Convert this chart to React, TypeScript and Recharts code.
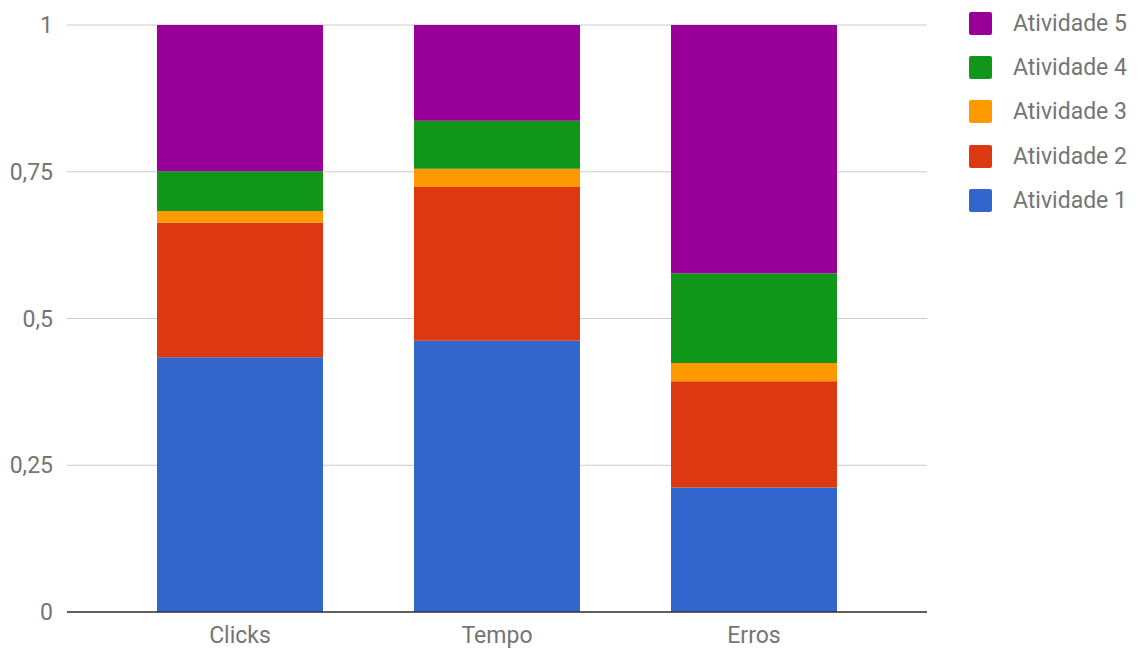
import React from "react";
import { BarChart, Bar, XAxis, YAxis, CartesianGrid } from "recharts";

const categories = ["Clicks", "Tempo", "Erros"];
const atividade1 = [0.434, 0.462, 0.212];
const atividade2 = [0.229, 0.262, 0.181];
const atividade3 = [0.02, 0.031, 0.031];
const atividade4 = [0.068, 0.082, 0.153];
const atividade5 = [0.249, 0.163, 0.423];
const yTicks = [0, 0.25, 0.5, 0.75, 1];

const series = [
  { key: "a1", name: "Atividade 1", color: "#3366cc", values: atividade1 },
  { key: "a2", name: "Atividade 2", color: "#dc3912", values: atividade2 },
  { key: "a3", name: "Atividade 3", color: "#ff9900", values: atividade3 },
  { key: "a4", name: "Atividade 4", color: "#109618", values: atividade4 },
  { key: "a5", name: "Atividade 5", color: "#990099", values: atividade5 },
];

const data = categories.map((name, i) => {
  const row: Record<string, string | number> = { name };
  series.forEach((s) => {
    row[s.key] = s.values[i];
  });
  return row;
});

const FONT = "Roboto, 'Noto Sans', sans-serif";
const TEXT = "#757575";

// legend on the right, last series on top
function LegendBox() {
  const items = [...series].reverse();
  return (
    <div
      style={{
        position: "absolute",
        left: 969,
        top: 1.5,
        fontFamily: FONT,
        fontSize: 23,
        color: TEXT,
      }}
    >
      {items.map((s) => (
        <div
          key={s.key}
          style={{ display: "flex", alignItems: "center", height: 44.2 }}
        >
          <span
            style={{
              width: 23,
              height: 23,
              borderRadius: 2,
              background: s.color,
              marginRight: 21,
              display: "inline-block",
            }}
          />
          <span>{s.name}</span>
        </div>
      ))}
    </div>
  );
}

export default function App() {
  return (
    <div
      style={{
        position: "absolute",
        left: 0,
        top: 0,
        width: 1138,
        height: 650,
        background: "#fff",
      }}
    >
      <BarChart
        width={1138}
        height={650}
        data={data}
        margin={{ top: 25, right: 211, bottom: 0, left: 0 }}
        barCategoryGap="17.7%"
      >
        <CartesianGrid vertical={false} stroke="#cccccc" />
        <XAxis
          dataKey="name"
          height={38}
          padding={{ left: 44.5, right: 44.5 }}
          tickLine={false}
          axisLine={{ stroke: "#333", strokeWidth: 1.5 }}
          tickMargin={9}
          tick={{ fill: TEXT, fontSize: 23, fontFamily: FONT }}
        />
        <YAxis
          width={67}
          domain={[0, 1]}
          ticks={yTicks}
          tickLine={false}
          axisLine={false}
          tickMargin={8}
          tickFormatter={(v: number) => String(v).replace(".", ",")}
          tick={{ fill: TEXT, fontSize: 23, fontFamily: FONT }}
        />
        {series.map((s) => (
          <Bar
            key={s.key}
            dataKey={s.key}
            name={s.name}
            stackId="total"
            fill={s.color}
            isAnimationActive={false}
          />
        ))}
      </BarChart>
      <LegendBox />
    </div>
  );
}
